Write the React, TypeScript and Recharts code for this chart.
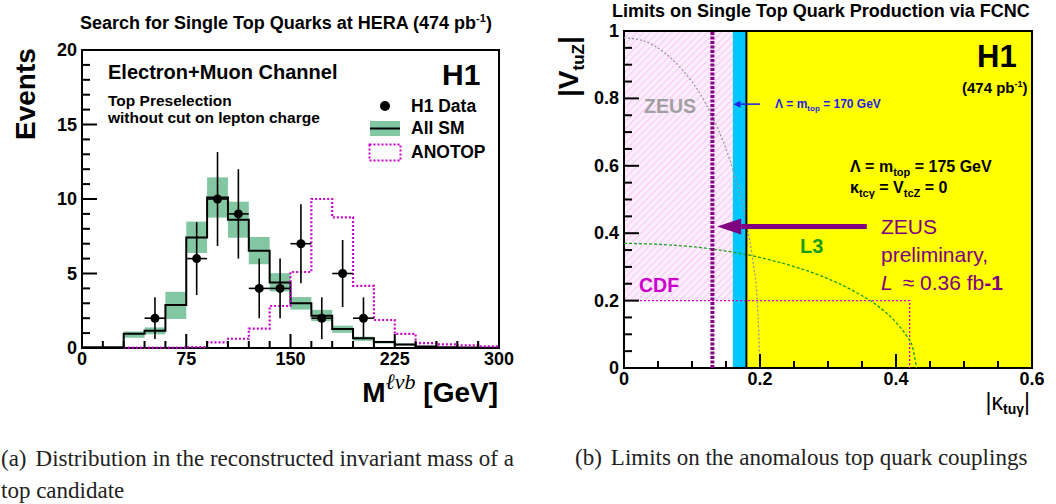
import React from 'react';
import {
  ComposedChart, Line, Scatter, ErrorBar, XAxis, YAxis, ReferenceArea, ReferenceLine,
} from 'recharts';

const SANS = '"Liberation Sans", Arial, Helvetica, sans-serif';
const SERIF = '"Liberation Serif", "Times New Roman", Times, serif';

// ---------- (a) M(l nu b) distribution, 15 GeV bins ----------
const binEdges = [0, 15, 30, 45, 60, 75, 90, 105, 120, 135, 150, 165, 180, 195, 210, 225, 240, 255, 270, 285];
const BIN_WIDTH = 15;
const smEvents = [0.05, 0.05, 0.96, 1.15, 2.88, 7.42, 10.1, 8.6, 6.52, 4.4, 3.0, 2.17, 1.28, 0.65, 0.4, 0.24, 0.1, 0.05, 0.03, 0.02];
const smLow = [0.03, 0.03, 0.68, 0.92, 1.95, 6.38, 8.75, 7.4, 5.62, 3.8, 2.58, 1.8, 1.02, 0.48, 0.3, 0.15, 0.06, 0.03, 0.02, 0.01];
const smHigh = [0.07, 0.07, 1.1, 1.38, 3.77, 8.48, 11.45, 9.82, 7.45, 5.02, 3.42, 2.56, 1.5, 0.76, 0.48, 0.3, 0.14, 0.07, 0.04, 0.03];
const anotopEvents = [null, null, 0.03, 0.03, 0.03, 0.06, 0.38, 0.62, 1.3, 2.82, 5.1, 10.0, 8.77, 4.17, 1.88, 0.95, 0.33, 0.25, 0.17, 0.11];

const dataMass = [52.5, 82.5, 97.5, 112.5, 127.5, 142.5, 157.5, 172.5, 187.5, 202.5];
const dataEvents = [2, 6, 10, 9, 4, 4, 7, 2, 5, 2];
const dataErr = [1.4, 2.45, 3.15, 3.0, 2.0, 2.0, 2.65, 1.4, 2.25, 1.4];

const massTicks = [0, 15, 30, 45, 60, 75, 90, 105, 120, 135, 150, 165, 180, 195, 210, 225, 240, 255, 270, 285, 300];
const eventTicks = [0, 1, 2, 3, 4, 5, 6, 7, 8, 9, 10, 11, 12, 13, 14, 15, 16, 17, 18, 19, 20];

// ---------- (b) limits in the |kappa_tu gamma| / |v_tuZ| plane ----------
const kappaTicks = [0, 0.05, 0.1, 0.15, 0.2, 0.25, 0.3, 0.35, 0.4, 0.45, 0.5, 0.55, 0.6];
const vTicks = [0, 0.05, 0.1, 0.15, 0.2, 0.25, 0.3, 0.35, 0.4, 0.45, 0.5, 0.55, 0.6, 0.65, 0.7, 0.75, 0.8, 0.85, 0.9, 0.95, 1];

const h1Limit175 = 0.18;
const h1Limit170 = 0.16;
const zeusPrelimLimit = 0.13;

const zeusKappa = [0, 0.03, 0.06, 0.09, 0.11, 0.13, 0.15, 0.16, 0.17, 0.18, 0.19, 0.196, 0.2];
const zeusV = [0.98, 0.97, 0.935, 0.875, 0.82, 0.745, 0.65, 0.59, 0.52, 0.43, 0.31, 0.2, 0.0];
const l3Kappa = [0, 0.05, 0.1, 0.15, 0.2, 0.25, 0.3, 0.34, 0.37, 0.4, 0.415, 0.425, 0.43];
const l3V = [0.37, 0.367, 0.36, 0.347, 0.328, 0.301, 0.265, 0.226, 0.189, 0.135, 0.097, 0.057, 0.0];
const cdfKappa = [0, 0.42, 0.42];
const cdfV = [0.2, 0.2, 0];

const arrow170Kappa = [0.2, 0.161];
const arrow170V = 0.783;
const arrowZeusKappa = [0.357, 0.137];
const arrowZeusV = 0.42;

// ---------- helpers ----------
const histData = binEdges.map((x, i) => ({ x, sm: smEvents[i], anotop: anotopEvents[i] }));
histData.push({ x: binEdges[binEdges.length - 1] + BIN_WIDTH, sm: smEvents[smEvents.length - 1], anotop: anotopEvents[anotopEvents.length - 1] });
const pointData = dataMass.map((x, i) => ({ x, y: dataEvents[i], ey: dataErr[i], ex: BIN_WIDTH / 2 }));

const toXY = (xs: number[], ys: number[]) => xs.map((x, i) => ({ x, y: ys[i] }));
const isMultiple = (v: number, step: number) => Math.abs(v / step - Math.round(v / step)) < 1e-6;

// inward tick marks (ROOT style): a short stub at the start of a full-span segment
const tickMark = (len: number) => (p: any) => {
  const { x1, y1, x2, y2 } = p;
  const d = Math.hypot(x2 - x1, y2 - y1) || 1;
  const ex = x1 + ((x2 - x1) / d) * len;
  const ey = y1 + ((y2 - y1) / d) * len;
  return (
    <g>
      <line x1={x1} y1={y1} x2={ex} y2={ey} stroke="#000" strokeWidth={2} />
    </g>
  );
};

const renderXTicks = (ticks: number[], yMin: number, yMax: number, step: number) =>
  ticks.map((v) => (
    <ReferenceLine key={`xt-${v}`} segment={[{ x: v, y: yMin }, { x: v, y: yMax }]}
      shape={tickMark(isMultiple(v, step) ? 14 : 7)} />
  ));
const renderYTicks = (ticks: number[], xMin: number, xMax: number, step: number) =>
  ticks.map((v) => (
    <ReferenceLine key={`yt-${v}`} segment={[{ x: xMin, y: v }, { x: xMax, y: v }]}
      shape={tickMark(isMultiple(v, step) ? 15 : 8)} />
  ));

const tickFont = { fontFamily: SANS, fontWeight: 700, fontSize: 18, fill: '#000' };

const makeXLabel = (majorStep: number, fmt: (v: number) => string) => (p: any) => {
  const v = p.payload.value;
  if (!isMultiple(v, majorStep)) return <g key={`xl-${v}`} />;
  return <text key={`xl-${v}`} x={p.x} y={p.y + 17} textAnchor="middle" {...tickFont}>{fmt(v)}</text>;
};

const makeYLabel = (majorStep: number, fmt: (v: number) => string) => (p: any) => {
  const v = p.payload.value;
  if (!isMultiple(v, majorStep)) return <g key={`yl-${v}`} />;
  return <text key={`yl-${v}`} x={p.x - 5} y={p.y} dy={6} textAnchor="end" {...tickFont}>{fmt(v)}</text>;
};

const fmtInt = (v: number) => String(Math.round(v));
const fmtDec = (v: number) => (v === 0 || v === 1 ? String(v) : v.toFixed(1));

const arrowShape = (color: string, width: number, headLen: number, headHalf: number) => (p: any) => {
  const { x1, y1, x2, y2 } = p;
  const dir = Math.sign(x2 - x1) || 1;
  const bx = x2 - dir * headLen;
  return (
    <g>
      <line x1={x1} y1={y1} x2={bx} y2={y2} stroke={color} strokeWidth={width} />
      <polygon points={`${x2},${y2} ${bx},${y2 - headHalf} ${bx},${y2 + headHalf}`} fill={color} />
    </g>
  );
};

const MassChart = () => (
  <ComposedChart width={520} height={430} data={histData} margin={{ top: 50, right: 21, bottom: 81, left: 81 }}>
    {binEdges.map((x, i) => (
      <ReferenceArea key={`band-${x}`} x1={x} x2={x + BIN_WIDTH} y1={smLow[i]} y2={smHigh[i]}
        fill="#82c6a2" fillOpacity={1} stroke="none" />
    ))}
    <Line dataKey="sm" type="stepAfter" stroke="#000" strokeWidth={2} dot={false} isAnimationActive={false} />
    <Line dataKey="anotop" type="stepAfter" stroke="#cc00cc" strokeWidth={2.2} strokeDasharray="2 2"
      dot={false} isAnimationActive={false} />
    <Scatter data={pointData} dataKey="y" fill="#000" isAnimationActive={false}>
      <ErrorBar dataKey="ey" direction="y" width={0} stroke="#000" strokeWidth={1.6} />
      <ErrorBar dataKey="ex" direction="x" width={0} stroke="#000" strokeWidth={1.6} />
    </Scatter>
    {renderXTicks(massTicks, 0, 20, 75)}
    {renderYTicks(eventTicks, 0, 300, 5)}
    <ReferenceArea x1={0} x2={300} y1={0} y2={20} fill="none" stroke="#000" strokeWidth={2} />
    <XAxis dataKey="x" type="number" domain={[0, 300]} ticks={massTicks} interval={0} height={1}
      tickSize={0} tickMargin={0} axisLine={false} tickLine={false} tick={makeXLabel(75, fmtInt)} />
    <YAxis type="number" domain={[0, 20]} ticks={eventTicks} interval={0} width={1}
      tickSize={0} tickMargin={0} axisLine={false} tickLine={false} tick={makeYLabel(5, fmtInt)} />
  </ComposedChart>
);

const LimitChart = () => (
  <ComposedChart width={536} height={430} margin={{ top: 31, right: 24, bottom: 61, left: 103 }}>
    <ReferenceArea x1={cdfKappa[0]} x2={cdfKappa[1]} y1={cdfV[0]} y2={1} fill="url(#cdfHatch)" fillOpacity={1} stroke="none" />
    <ReferenceArea x1={h1Limit170} x2={0.6} y1={0} y2={1} fill="#00c8ff" fillOpacity={1} stroke="none" />
    <ReferenceArea x1={h1Limit175} x2={0.6} y1={0} y2={1} fill="#ffff00" fillOpacity={1} stroke="none" />
    <Line data={toXY(cdfKappa, cdfV)} dataKey="y" type="linear" stroke="#dd00dd" strokeWidth={1.3}
      strokeDasharray="2 2" dot={false} isAnimationActive={false} />
    <Line data={toXY(zeusKappa, zeusV)} dataKey="y" type="monotone" stroke="#999" strokeWidth={1.3}
      strokeDasharray="2 2" dot={false} isAnimationActive={false} />
    <Line data={toXY(l3Kappa, l3V)} dataKey="y" type="monotone" stroke="#1a9e1a" strokeWidth={1.3}
      strokeDasharray="3 2" dot={false} isAnimationActive={false} />
    <ReferenceLine x={zeusPrelimLimit} stroke="#8b008b" strokeWidth={4} strokeDasharray="3 1.5" />
    <ReferenceLine x={h1Limit175} stroke="#000" strokeWidth={2} />
    <ReferenceLine segment={[{ x: arrow170Kappa[0], y: arrow170V }, { x: arrow170Kappa[1], y: arrow170V }]}
      shape={arrowShape('#1e1ee6', 1.5, 7, 3.5)} />
    <ReferenceLine segment={[{ x: arrowZeusKappa[0], y: arrowZeusV }, { x: arrowZeusKappa[1], y: arrowZeusV }]}
      shape={arrowShape('#800080', 5, 24, 8)} />
    {renderXTicks(kappaTicks, 0, 1, 0.2)}
    {renderYTicks(vTicks, 0, 0.6, 0.2)}
    <ReferenceArea x1={0} x2={0.6} y1={0} y2={1} fill="none" stroke="#000" strokeWidth={2} />
    <XAxis dataKey="x" type="number" domain={[0, 0.6]} ticks={kappaTicks} interval={0} height={1}
      tickSize={0} tickMargin={0} axisLine={false} tickLine={false} tick={makeXLabel(0.2, fmtDec)} />
    <YAxis type="number" domain={[0, 1]} ticks={vTicks} interval={0} width={1}
      tickSize={0} tickMargin={0} axisLine={false} tickLine={false} tick={makeYLabel(0.2, fmtDec)} />
  </ComposedChart>
);

const Overlay = () => (
  <svg width={1056} height={504} style={{ position: 'absolute', left: 0, top: 0, pointerEvents: 'none' }}>
    <defs>
      <pattern id="cdfHatch" width="5" height="5" patternUnits="userSpaceOnUse" patternTransform="rotate(45)">
        <rect width="5" height="5" fill="#fdeefd" />
        <line x1="0" y1="0" x2="0" y2="5" stroke="#f4b8f4" strokeWidth="1.4" />
      </pattern>
    </defs>

    {/* (a) */}
    <g fontFamily={SANS} fontWeight={700} fill="#000">
      <text x={80} y={29} fontSize={18}>
        Search for Single Top Quarks at HERA (474 pb<tspan fontSize={11} dy={-7}>-1</tspan><tspan dy={7}>)</tspan>
      </text>
      <text transform="translate(35,140) rotate(-90)" fontSize={28}>Events</text>
      <text x={108} y={79} fontSize={20}>Electron+Muon Channel</text>
      <text x={108} y={106} fontSize={15.5}>Top Preselection</text>
      <text x={108} y={123} fontSize={15.5}>without cut on lepton charge</text>
      <text x={442} y={85} fontSize={30}>H1</text>
      <circle cx={385} cy={106} r={5} fill="#000" />
      <text x={411} y={112} fontSize={17.5}>H1 Data</text>
      <rect x={370} y={121} width={30} height={15} fill="#82c6a2" />
      <line x1={370} x2={400} y1={128.5} y2={128.5} stroke="#000" strokeWidth={2} />
      <text x={411} y={134} fontSize={17.5}>All SM</text>
      <rect x={369.5} y={144.5} width={31} height={16} fill="none" stroke="#cc00cc" strokeWidth={2} strokeDasharray="2 2" />
      <text x={411} y={158} fontSize={17.5}>ANOTOP</text>
      <text x={498} y={402} fontSize={28} textAnchor="end">
        M<tspan fontFamily={SERIF} fontStyle="italic" fontWeight={400} fontSize={22} dy={-13}>ℓνb</tspan>
        <tspan dy={13}> [GeV]</tspan>
      </text>
    </g>

    {/* (b) */}
    <g fontFamily={SANS} fontWeight={700} fill="#000">
      <text x={612} y={17} fontSize={18}>Limits on Single Top Quark Production via FCNC</text>
      <text transform="translate(578,97) rotate(-90)" fontSize={28}>
        |V<tspan fontSize={17} dy={6}>tuZ</tspan><tspan dy={-6}>|</tspan>
      </text>
      <text x={1030} y={410} fontSize={23} fontWeight={400} textAnchor="end">
        |κ<tspan fontSize={14} fontWeight={700} dy={4}>tuγ</tspan><tspan dy={-4}>|</tspan>
      </text>
      <text x={977} y={67} fontSize={31}>H1</text>
      <text x={962} y={93} fontSize={15}>
        (474 pb<tspan fontSize={9} dy={-6}>-1</tspan><tspan dy={6}>)</tspan>
      </text>
      <text x={775} y={108} fontSize={12} fill="#1e1ee6">
        Λ = m<tspan fontSize={8} dy={3}>top</tspan><tspan dy={-3}> = 170 GeV</tspan>
      </text>
      <text x={850} y={172} fontSize={16}>
        Λ = m<tspan fontSize={11} dy={4}>top</tspan><tspan dy={-4}> = 175 GeV</tspan>
      </text>
      <text x={850} y={193} fontSize={16}>
        κ<tspan fontSize={11} dy={4}>tcγ</tspan><tspan dy={-4}> = V</tspan><tspan fontSize={11} dy={4}>tcZ</tspan><tspan dy={-4}> = 0</tspan>
      </text>
      <text x={644} y={113} fontSize={19.5} fill="#a0a0a0">ZEUS</text>
      <text x={639} y={292} fontSize={19.5} fill="#cc00cc">CDF</text>
      <text x={800} y={253} fontSize={20} fill="#1a9e1a">L3</text>
      <g fontWeight={400} fontSize={21} fill="#800080">
        <text x={881} y={234}>ZEUS</text>
        <text x={881} y={262}>preliminary,</text>
        <text x={881} y={290}>
          <tspan fontStyle="italic">L</tspan><tspan dx={10}>≈ 0.36 fb</tspan><tspan fontWeight={700}>-1</tspan>
        </text>
      </g>
    </g>

    {/* captions */}
    <g fontFamily={SERIF} fontSize={23} fill="#222">
      <text x={1} y={466}>(a)<tspan dx={9}>Distribution in the reconstructed invariant mass of a</tspan></text>
      <text x={1} y={498}>top candidate</text>
      <text x={575} y={465}>(b)<tspan dx={9}>Limits on the anomalous top quark couplings</tspan></text>
    </g>
  </svg>
);

export default function App() {
  return (
    <div style={{ position: 'fixed', left: 0, top: 0, width: 1056, height: 504, background: '#fff', overflow: 'hidden' }}>
      <div style={{ position: 'absolute', left: 0, top: 0 }}>
        <MassChart />
      </div>
      <div style={{ position: 'absolute', left: 520, top: 0 }}>
        <LimitChart />
      </div>
      <Overlay />
    </div>
  );
}
